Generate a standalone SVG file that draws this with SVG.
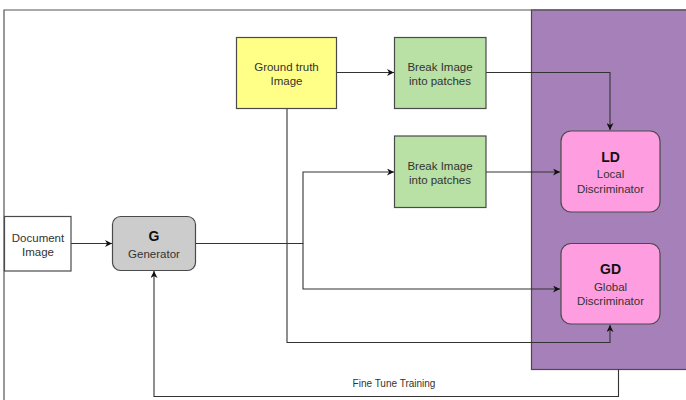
<svg xmlns="http://www.w3.org/2000/svg" width="686" height="400" viewBox="0 0 686 400">
  <style>
    .box { stroke: #4a4a4a; stroke-width: 1.2; }
    .lbl { font-family: "Liberation Sans", Arial, sans-serif; font-size: 11.5px; fill: #333333; text-anchor: middle; }
    .bold { font-family: "Liberation Sans", Arial, sans-serif; font-size: 14px; font-weight: bold; fill: #111111; text-anchor: middle; }
    .small { font-family: "Liberation Sans", Arial, sans-serif; font-size: 10px; fill: #333333; text-anchor: middle; }
    .wire { fill: none; stroke: #333333; stroke-width: 1.1; }
    .frame { fill: none; stroke: #555555; stroke-width: 1.2; }
  </style>
  <defs>
    <marker id="arrow" viewBox="0 0 10 10" refX="10" refY="5" markerWidth="7" markerHeight="7" markerUnits="userSpaceOnUse" orient="auto">
      <path d="M0,0 L10,5 L0,10 L3,5 z" fill="#111111"/>
    </marker>
  </defs>

  <rect width="686" height="400" fill="#ffffff"/>

  <!-- outer frame: top and left edges -->
  <path class="frame" d="M4,400 V10 H686"/>

  <!-- discriminator panel -->
  <rect id="panel" x="531.5" y="10" width="160" height="359.5" fill="#a680b8" stroke="#4a4a4a" stroke-width="1.2"/>

  <!-- connectors -->
  <g id="connectors">
    <path class="wire" d="M71,243.5 H112" marker-end="url(#arrow)"/>
    <path class="wire" d="M196,243.5 H303 V172 H394" marker-end="url(#arrow)"/>
    <path class="wire" d="M303,243.5 V289 H560" marker-end="url(#arrow)"/>
    <path class="wire" d="M337,72.5 H394" marker-end="url(#arrow)"/>
    <path class="wire" d="M486,72.5 H610 V130" marker-end="url(#arrow)"/>
    <path class="wire" d="M486,172 H560" marker-end="url(#arrow)"/>
    <path class="wire" d="M287,109 V342.5 H610 V325" marker-end="url(#arrow)"/>
    <path class="wire" stroke="#555555" d="M618.5,369.5 V396.5 H154 V271" marker-end="url(#arrow)"/>
    <text class="small" x="394" y="387">Fine Tune Training</text>
  </g>

  <g id="document-image">
    <rect class="box" x="4.5" y="216.5" width="66.5" height="54.5" fill="#ffffff"/>
    <text class="lbl" x="38" y="241.5">Document</text>
    <text class="lbl" x="38" y="256">Image</text>
  </g>

  <g id="generator">
    <rect class="box" x="112.5" y="216.5" width="83" height="54" rx="8" fill="#cccccc"/>
    <text class="bold" x="154" y="241">G</text>
    <text class="lbl" x="154" y="257.5">Generator</text>
  </g>

  <g id="ground-truth">
    <rect class="box" x="236.5" y="37.5" width="100" height="71" fill="#ffff88"/>
    <text class="lbl" x="286.5" y="71">Ground truth</text>
    <text class="lbl" x="286.5" y="85">Image</text>
  </g>

  <g id="patches-top">
    <rect class="box" x="394.5" y="37.5" width="91.5" height="71" fill="#b9e0a5"/>
    <text class="lbl" x="440" y="71">Break Image</text>
    <text class="lbl" x="440" y="85">into patches</text>
  </g>

  <g id="patches-bottom">
    <rect class="box" x="394.5" y="136" width="91.5" height="71.5" fill="#b9e0a5"/>
    <text class="lbl" x="440" y="170">Break Image</text>
    <text class="lbl" x="440" y="184">into patches</text>
  </g>

  <g id="local-discriminator">
    <rect class="box" x="561" y="131" width="99" height="81" rx="10" fill="#fe9de0"/>
    <text class="bold" x="610.5" y="162">LD</text>
    <text class="lbl" x="610.5" y="178">Local</text>
    <text class="lbl" x="610.5" y="193">Discriminator</text>
  </g>

  <g id="global-discriminator">
    <rect class="box" x="561" y="243.5" width="99" height="80.5" rx="10" fill="#fe9de0"/>
    <text class="bold" x="610.5" y="274">GD</text>
    <text class="lbl" x="610.5" y="291">Global</text>
    <text class="lbl" x="610.5" y="305">Discriminator</text>
  </g>
</svg>
